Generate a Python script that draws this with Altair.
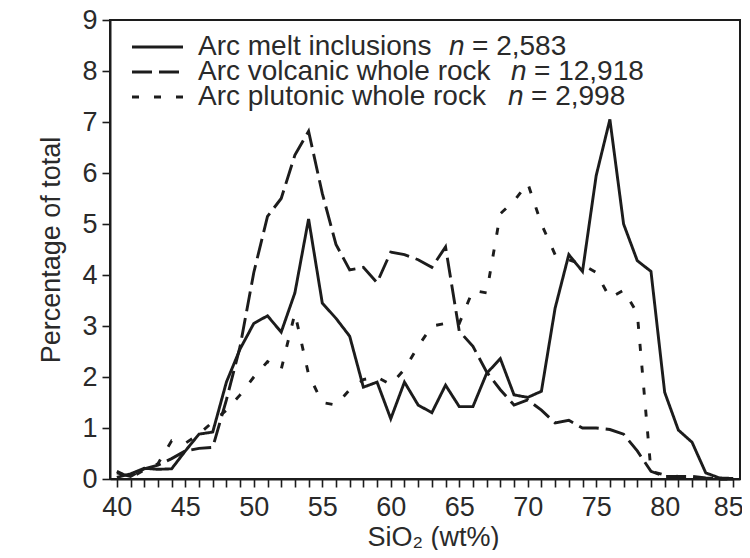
import altair as alt
import pandas as pd

# ---- data ----
sio2 = list(range(40, 86))

melt = [0.03, 0.10, 0.21, 0.19, 0.20, 0.55, 0.88, 0.92, 1.90, 2.55,
        3.05, 3.20, 2.88, 3.65, 5.10, 3.45, 3.15, 2.80, 1.80, 1.90,
        1.18, 1.90, 1.45, 1.30, 1.84, 1.42, 1.42, 2.07, 2.36, 1.65,
        1.60, 1.72, 3.35, 4.40, 4.07, 5.95, 7.05, 5.00, 4.28, 4.07,
        1.70, 0.96, 0.72, 0.12, 0.02, 0.01]

volcanic = [0.12, 0.05, 0.20, 0.27, 0.40, 0.55, 0.60, 0.62, 1.55, 2.60,
            4.05, 5.15, 5.50, 6.35, 6.82, 5.60, 4.60, 4.10, 4.15, 3.85,
            4.45, 4.40, 4.30, 4.15, 4.55, 2.90, 2.60, 2.10, 1.75, 1.45,
            1.55, 1.35, 1.10, 1.15, 1.00, 1.00, 0.97, 0.88, 0.55, 0.15,
            0.05, 0.05, 0.05, 0.02, 0.00, 0.00]

plutonic = [0.15, 0.02, 0.18, 0.30, 0.75, 0.70, 0.88, 1.12, 1.35, 1.65,
            2.00, 2.30, 2.15, 3.25, 2.05, 1.50, 1.45, 1.75, 1.95, 2.00,
            1.85, 2.15, 2.60, 3.00, 3.05, 3.05, 3.70, 3.65, 5.20, 5.45,
            5.80, 5.00, 4.40, 4.30, 4.20, 4.05, 3.55, 3.70, 3.25, 0.15,
            0.08, 0.05, 0.02, 0.01, 0.00, 0.00]

series_names = ["Arc melt inclusions", "Arc volcanic whole rock", "Arc plutonic whole rock"]
series_counts = ["= 2,583", "= 12,918", "= 2,998"]
y_ticks = list(range(0, 10))

# ---- styling / layout ----
FONT = "Liberation Sans"
INK = "#1c1c1c"
TEXT = "#2a2a2a"
dash_patterns = [[1, 0], [20, 7], [7, 15]]
legend_rows_y = [27, 52, 77]
legend_n_x = [339, 401, 398]

rows = []
for name, vals in zip(series_names, [melt, volcanic, plutonic]):
    for s, v in zip(sio2, vals):
        rows.append({"sio2": s, "pct": v, "series": name})
df = pd.DataFrame(rows)

legend_df = pd.DataFrame({
    "row": [0, 1, 2],
    "series": series_names,
    "nsym": ["n", "n", "n"],
    "count": series_counts,
})

lines = alt.Chart(df).mark_line(strokeWidth=2.9, color=INK, strokeCap="butt", strokeJoin="miter").encode(
    x=alt.X("sio2:Q",
            scale=alt.Scale(domain=[39.5, 85.5], nice=False, zero=False),
            axis=alt.Axis(values=sio2, format="d",
                          labelExpr="datum.value % 5 == 0 ? datum.label : ''",
                          labelOverlap=False, labelFlush=False,
                          labelOffset={"condition": {"test": "datum.value == 85", "value": -5}, "value": 0},
                          tickSize=8, tickWidth=1.6, tickColor=INK,
                          domainWidth=2, domainColor=INK,
                          labelFontSize=27, labelPadding=7, labelColor=TEXT, labelFont=FONT,
                          title="SiO₂ (wt%)", titleFontSize=27, titleFont=FONT,
                          titleFontWeight="normal", titleColor=TEXT, titlePadding=4,
                          titleX=323,
                          grid=False)),
    y=alt.Y("pct:Q",
            scale=alt.Scale(domain=[0, 9], nice=False),
            axis=alt.Axis(values=y_ticks, format="d",
                          tickSize=8, tickWidth=1.6, tickColor=INK,
                          domainWidth=2, domainColor=INK,
                          labelFontSize=27, labelPadding=5, labelColor=TEXT, labelFont=FONT,
                          title="Percentage of total", titleFontSize=27, titleFont=FONT,
                          titleFontWeight="normal", titleColor=TEXT, titlePadding=16,
                          grid=False)),
    strokeDash=alt.StrokeDash("series:N",
                              scale=alt.Scale(domain=series_names, range=dash_patterns),
                              legend=None),
    detail="series:N",
)

legend_layers = []
for i in range(3):
    base = alt.Chart(legend_df).transform_filter(alt.datum.row == i)
    legend_layers.append(
        base.mark_rule(strokeWidth=3, color=INK, strokeDash=dash_patterns[i], strokeCap="butt").encode(
            x=alt.value(22), x2=alt.value(73), y=alt.value(legend_rows_y[i]))
    )
    legend_layers.append(
        base.mark_text(align="left", baseline="middle", fontSize=28, font=FONT, color=TEXT).encode(
            x=alt.value(88), y=alt.value(legend_rows_y[i]), text="series:N")
    )
    legend_layers.append(
        base.mark_text(align="left", baseline="middle", fontSize=28, font=FONT, color=TEXT,
                       fontStyle="italic").encode(
            x=alt.value(legend_n_x[i]), y=alt.value(legend_rows_y[i]), text="nsym:N")
    )
    legend_layers.append(
        base.mark_text(align="left", baseline="middle", fontSize=28, font=FONT, color=TEXT).encode(
            x=alt.value(legend_n_x[i] + 23), y=alt.value(legend_rows_y[i]), text="count:N")
    )

chart = alt.layer(lines, *legend_layers).properties(
    width=630, height=459,
    autosize=alt.AutoSizeParams(type="none"),
    padding={"left": 102, "top": 12, "right": 2, "bottom": 71},
    background="white",
).configure_view(stroke=INK, strokeWidth=2)

chart.save("out.html", embed_options={"renderer": "svg", "actions": False})
